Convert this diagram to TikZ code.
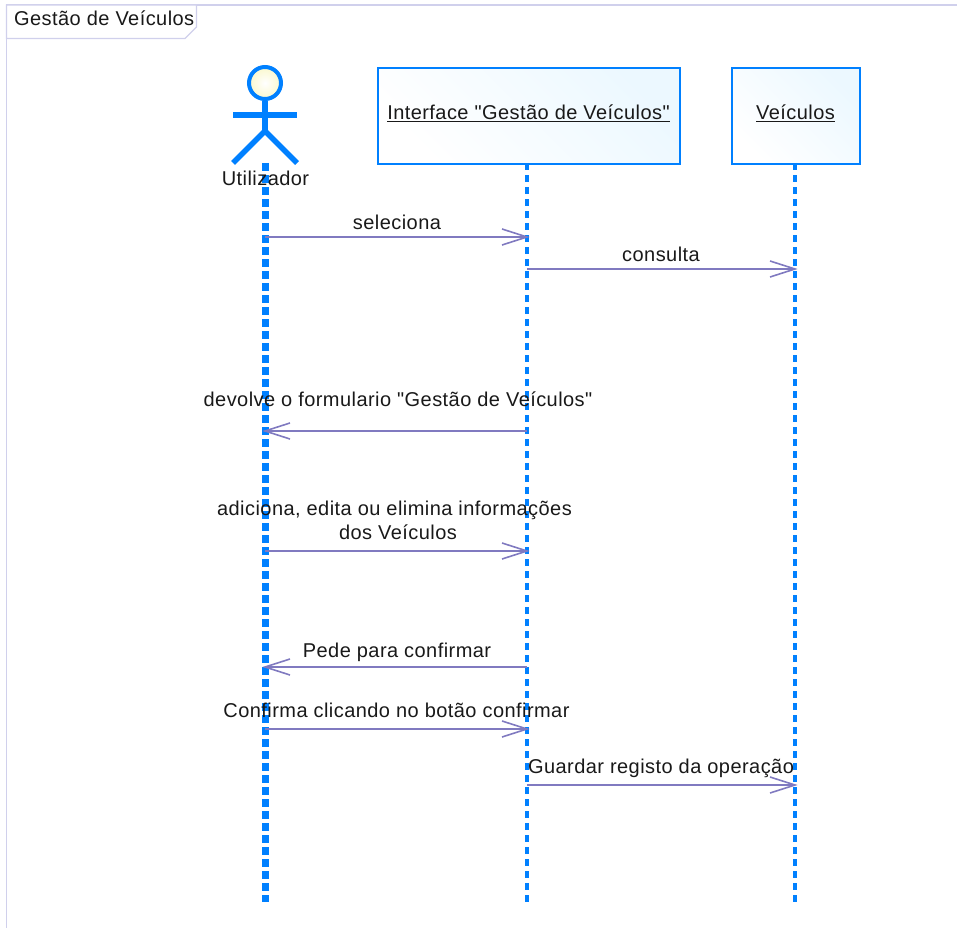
\documentclass[tikz,border=0pt]{standalone}
\usepackage{fontspec}
\newfontfamily\lsans{Liberation Sans}[LetterSpace=2.2]
\usetikzlibrary{shadings,calc}
\definecolor{framec}{RGB}{208,208,236}
\definecolor{lifec}{RGB}{0,128,255}
\definecolor{msgc}{RGB}{128,122,192}
\definecolor{boxc}{RGB}{236,248,255}
\definecolor{headc}{RGB}{250,248,205}
\tikzset{
  x=1pt,y=-1pt,
  txt/.style={font=\lsans\fontsize{20}{24}\selectfont,text=black!90,inner sep=0pt,align=center},
  framel/.style={draw=framec,line width=1.3pt},
  objbox/.style={draw=lifec,line width=2pt,left color=white,right color=boxc,shading angle=135,minimum height=96pt,inner sep=0pt,anchor=north west},
  life/.style={draw=lifec,line width=4pt,dash pattern=on 7pt off 5pt},
  lifeactor/.style={draw=lifec,line width=7pt,dash pattern=on 8pt off 4pt},
  actorl/.style={draw=lifec,line width=5.5pt},
  msg/.style={draw=msgc,line width=1.6pt},
  tipl/.style={draw=msgc,line width=1.6pt}
}
\newcommand{\openhead}[2]{% point, direction sign
  \draw[tipl] ($(#1)+(#2*25,-8)$) -- (#1) -- ($(#1)+(#2*25,8)$);}
\begin{document}
\begin{tikzpicture}
\useasboundingbox (0,0) rectangle (957,928);
% frame
\draw[framel] (957,5) -- (6.5,5) -- (6.5,928);
\draw[framel,fill=white] (6.5,5) -- (196.5,5) -- (196.5,27) -- (185,38.5) -- (6.5,38.5) -- cycle;
\node[txt,anchor=base west] (title) at (14,26) {Gestão de Veículos};
% objects
\node[objbox,minimum width=302pt] (iface) at (377,67) {};
\node[txt] (ifacet) at (528.5,113) {\underline{Interface "Gestão de Veículos"}};
\node[objbox,minimum width=128pt] (veic) at (731,67) {};
\node[txt] (veict) at (795.5,113) {\underline{Veículos}};
% lifelines
\coordinate (la) at (265,163);
\coordinate (lae) at (265,902);
\coordinate (lb) at (527,163);
\coordinate (lbe) at (527,902);
\coordinate (lc) at (795,163);
\coordinate (lce) at (795,902);
\draw[lifeactor] (la) -- (lae);
\draw[life] (lb) -- (lbe);
\draw[life] (lc) -- (lce);
% actor
\node[circle,draw=lifec,line width=4pt,inner color=white,outer color=headc,minimum size=32pt,inner sep=0pt] (head) at (265,83) {};
\coordinate (hip) at (265,131);
\coordinate (arml) at (233,115);
\coordinate (armr) at (297,115);
\coordinate (legl) at (233,163);
\coordinate (legr) at (297,163);
\draw[actorl] (head.south) -- (hip);
\draw[actorl] (arml) -- (armr);
\draw[actorl] (legl) -- (hip) -- (legr);
\node[txt,anchor=base] (actor) at (265.5,185) {Utilizador};
% messages
\foreach \y/\a/\b/\d in {237/la/lb/-1,269/lb/lc/-1,431/lb/la/1,551/la/lb/-1,667/lb/la/1,729/la/lb/-1,785/lb/lc/-1}{
  \draw[msg] (\a |- 0,\y) -- (\b |- 0,\y);
  \coordinate (tip) at (\b |- 0,\y);
  \openhead{tip}{\d}
}
\node[txt,anchor=base] (m1) at (397,229) {seleciona};
\node[txt,anchor=base] (m2) at (661,261) {consulta};
\node[txt,anchor=base] (m3) at (398,406) {devolve o formulario "Gestão de Veículos"};
\node[txt,anchor=base] (m4a) at (394.5,515) {adiciona, edita ou elimina informações};
\node[txt,anchor=base] (m4b) at (398,539) {dos Veículos};
\node[txt,anchor=base] (m5) at (397,657) {Pede para confirmar};
\node[txt,anchor=base] (m6) at (396.5,717) {Confirma clicando no botão confirmar};
\node[txt,anchor=base] (m7) at (661,773) {Guardar registo da operação};
\end{tikzpicture}
\end{document}
